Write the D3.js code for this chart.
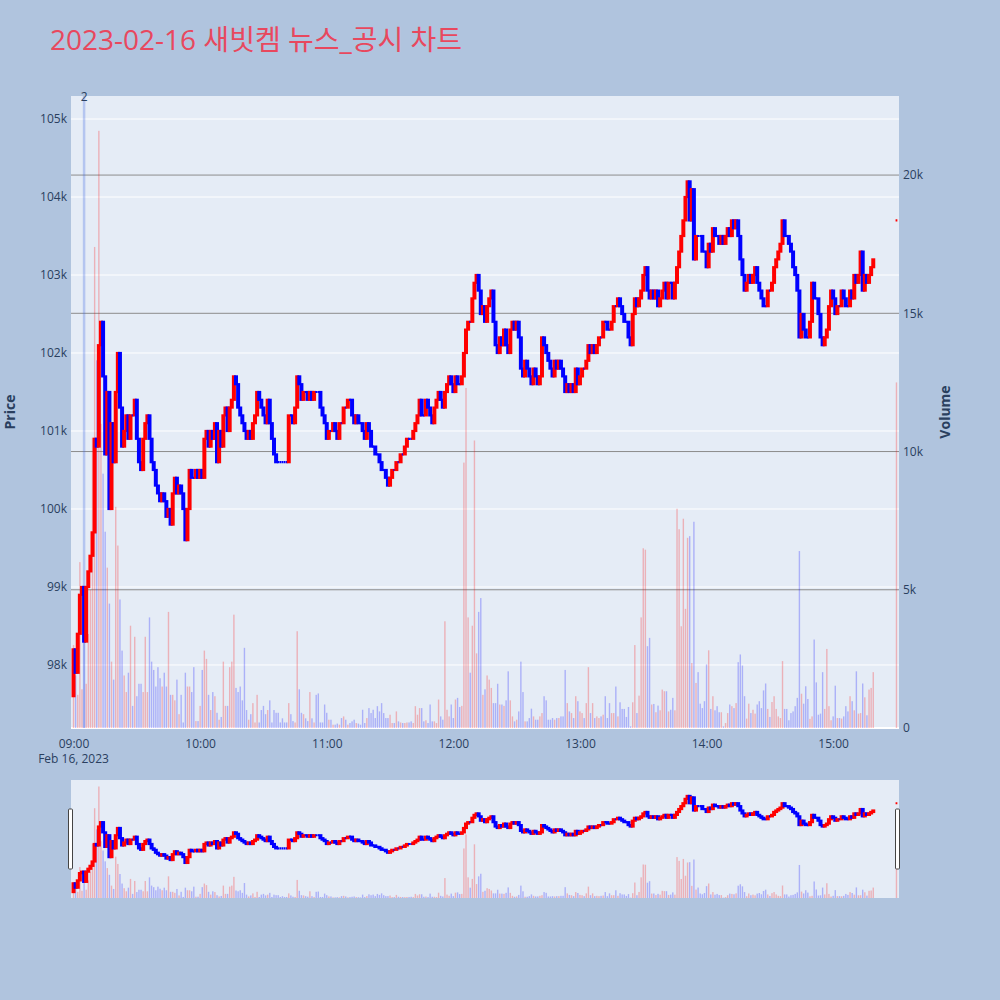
<!DOCTYPE html>
<html>
<head>
<meta charset="utf-8">
<script src="https://cdn.jsdelivr.net/npm/d3@7"></script>
<style>
  body { margin: 0; background: #b0c4de; }
  text { font-family: "Open Sans", "Noto Sans CJK KR", sans-serif; }
</style>
</head>
<body>
<svg id="chart" width="1000" height="1000"></svg>
<script>
// 1-minute closes from 09:00 to 15:19, in units of 100 won
const closes = [
  982,979,984,989,990,983,990,992,994,997,
  1009,1008,1021,1024,1017,1007,1015,1000,1011,1006,
  1015,1020,1013,1008,1010,1012,1009,1012,1012,1014,
  1009,1006,1005,1009,1011,1012,1009,1006,1005,1003,
  1002,1001,1002,1001,999,1000,998,1002,1004,1002,
  1003,1002,1000,996,1000,1005,1004,1004,1005,1004,
  1005,1004,1009,1010,1008,1010,1009,1011,1006,1010,
  1008,1012,1013,1010,1013,1014,1017,1016,1013,1012,
  1011,1010,1009,1010,1009,1011,1012,1015,1014,1013,
  1012,1011,1014,1011,1009,1007,1006,1006,1006,1006,
  1006,1006,1012,1012,1011,1013,1017,1016,1014,1015,
  1015,1014,1015,1014,1015,1015,1015,1013,1012,1011,
  1009,1010,1010,1011,1010,1009,1011,1011,1013,1013,
  1014,1014,1012,1011,1012,1011,1011,1010,1009,1011,
  1010,1008,1008,1007,1007,1006,1005,1005,1004,1003,
  1004,1005,1005,1006,1006,1007,1007,1008,1009,1009,
  1009,1010,1011,1012,1014,1012,1012,1014,1013,1012,
  1011,1013,1014,1015,1014,1013,1015,1016,1017,1016,
  1015,1017,1016,1016,1017,1020,1023,1024,1024,1027,
  1029,1030,1028,1025,1026,1024,1026,1027,1028,1024,
  1021,1020,1022,1021,1023,1021,1020,1023,1024,1023,
  1024,1022,1018,1017,1019,1018,1017,1016,1018,1017,
  1016,1017,1022,1021,1020,1019,1018,1017,1019,1018,
  1019,1018,1017,1015,1016,1015,1016,1015,1018,1016,
  1017,1018,1018,1019,1021,1020,1021,1020,1021,1022,
  1022,1024,1024,1023,1023,1024,1026,1026,1027,1026,
  1025,1024,1024,1022,1021,1025,1027,1026,1027,1028,
  1030,1031,1028,1027,1028,1027,1028,1026,1027,1028,
  1029,1027,1029,1029,1027,1029,1031,1033,1035,1037,
  1040,1042,1037,1041,1032,1035,1035,1035,1033,1033,
  1031,1034,1033,1036,1035,1035,1034,1035,1034,1035,
  1036,1035,1037,1036,1037,1035,1032,1030,1028,1029,
  1030,1029,1030,1031,1029,1028,1027,1026,1026,1028,
  1028,1029,1031,1032,1033,1034,1037,1035,1035,1034,
  1033,1031,1030,1028,1022,1025,1023,1022,1022,1024,
  1029,1027,1027,1025,1022,1021,1022,1023,1026,1028,
  1027,1025,1026,1026,1028,1027,1026,1026,1028,1027,
  1030,1029,1030,1033,1028,1030,1029,1030,1031,1032
];
const firstOpen = 976;
// 15:30 closing auction
const auctionOpen = 1037;
const auctionClose = 1037;

const volumes = [
  3000,1900,1200,6000,1400,3500,1600,3400,5000,10500,
  17400,13300,21600,11000,9200,7100,5800,4500,2400,1750,
  8000,6600,4650,2800,1900,1300,2000,3700,800,3300,
  1150,1600,1600,1300,3300,1300,4000,2400,2100,1500,
  2200,1800,1500,2000,1500,4200,1200,1200,1000,1750,
  500,1200,200,2000,1500,1500,1300,2200,250,250,
  800,2100,2800,2500,1200,650,1300,1150,550,300,
  400,2400,800,800,2200,2400,4100,1450,1300,1500,
  1000,2900,650,300,500,900,200,1200,200,650,
  800,500,650,1000,200,650,550,550,200,350,
  200,200,900,500,250,200,3500,1400,550,500,
  350,250,1300,350,200,1200,1250,200,200,850,
  550,300,300,120,120,160,120,360,420,300,
  120,180,240,300,180,160,120,660,180,360,
  720,540,660,360,790,600,900,540,360,360,
  480,180,180,600,240,200,180,180,200,200,
  240,180,790,480,720,720,240,280,180,850,
  240,240,180,1030,420,300,3860,660,420,850,
  360,1030,1090,760,800,9600,12300,4000,2000,3700,
  10400,2700,4200,4700,1200,1400,1900,1750,1450,900,
  900,1600,850,850,800,1000,2050,1000,420,240,
  300,600,2400,1300,240,240,360,700,420,300,
  300,420,540,1150,1000,300,300,360,300,360,
  360,420,420,2100,900,600,540,360,1150,970,
  600,540,360,900,2200,540,900,360,420,360,
  420,480,1150,360,900,540,540,1500,420,930,
  690,690,400,760,60,930,3000,540,1170,4000,
  6500,6450,2960,3260,850,870,570,810,640,1390,
  1330,1330,600,660,1090,640,7930,7190,3680,7570,
  4310,6880,6940,2350,7460,1630,2020,880,720,970,
  2300,2810,690,1150,640,790,570,570,60,180,
  540,850,790,720,900,2380,2660,2260,1150,340,
  880,540,660,520,850,970,720,1360,1610,690,
  400,940,1150,690,420,360,2420,690,690,280,
  540,600,790,1090,6400,1240,880,1510,1050,330,
  420,3200,1650,480,520,2020,690,2860,790,280,
  420,1530,360,360,340,420,790,600,1150,970,
  640,2050,520,540,1610,1110,460,1390,1450,2020
];
const auctionVolume = 12500;

const priceTicks = [98000, 99000, 100000, 101000, 102000, 103000, 104000, 105000];
const volumeTicks = [0, 5000, 10000, 15000, 20000];
const hourTicks = ["09:00", "10:00", "11:00", "12:00", "13:00", "14:00", "15:00"];
const newsTimes = ["09:05"];
const newsLabels = ["2"];

const day = "2023-02-16";
const parseTime = d3.timeParse("%Y-%m-%d %H:%M");
const t0 = parseTime(day + " 09:00");
const minute = 60000;

const candles = closes.map((c, i) => ({
  time: new Date(+t0 + i * minute),
  open: (i ? closes[i - 1] : firstOpen) * 100,
  close: c * 100,
  volume: volumes[i]
}));
candles.push({
  time: parseTime(day + " 15:30"),
  open: auctionOpen * 100,
  close: auctionClose * 100,
  volume: auctionVolume
});
candles.forEach((d, i) => {
  const prev = i ? candles[i - 1].close : d.open;
  d.up = d.close > d.open || (d.close === d.open && d.close > prev);
});

const svg = d3.select('#chart');
const plotLeft = 71, plotRight = 899, plotTop = 96, plotBottom = 728;
const sTop = 780, sBottom = 898;
const fontColor = '#2a3f5f';

const x = d3.scaleTime()
  .domain([new Date(+t0 - 1.2 * minute), new Date(+t0 + 391.2 * minute)])
  .range([plotLeft, plotRight]);
const yPrice = d3.scaleLinear().domain([97192, 105295]).range([plotBottom, plotTop]);
const yVol = d3.scaleLinear().domain([0, 22860]).range([plotBottom, plotTop]);
const sPrice = d3.scaleLinear().domain(yPrice.domain()).range([sBottom, sTop]);
const sVol = d3.scaleLinear().domain(yVol.domain()).range([sBottom, sTop]);

// title
svg.append('text')
  .attr('x', 50).attr('y', 50)
  .style('font-size', '28px')
  .style('fill', '#e8485e')
  .text(day + ' 새빗켐 뉴스_공시 차트');

const defs = svg.append('defs');
defs.append('clipPath').attr('id', 'clipMain')
  .append('rect').attr('x', plotLeft).attr('y', plotTop)
  .attr('width', plotRight - plotLeft).attr('height', plotBottom - plotTop);
defs.append('clipPath').attr('id', 'clipSlider')
  .append('rect').attr('x', plotLeft).attr('y', sTop)
  .attr('width', plotRight - plotLeft).attr('height', sBottom - sTop);

svg.append('rect')
  .attr('x', plotLeft).attr('y', plotTop)
  .attr('width', plotRight - plotLeft).attr('height', plotBottom - plotTop)
  .style('fill', '#e5ecf6');

// price grid
svg.append('g').selectAll('line')
  .data(priceTicks)
  .join('line')
  .attr('x1', plotLeft).attr('x2', plotRight)
  .attr('y1', d => yPrice(d)).attr('y2', d => yPrice(d))
  .style('stroke', '#fff').style('stroke-width', 1);

// volume grid
svg.append('g').selectAll('line')
  .data(volumeTicks)
  .join('line')
  .attr('x1', plotLeft).attr('x2', plotRight)
  .attr('y1', d => yVol(d)).attr('y2', d => yVol(d))
  .style('stroke', d => d === 0 ? '#fff' : '#8c8c8c')
  .style('stroke-width', d => d === 0 ? 2 : 1);

const upColor = 'red', downColor = 'blue';

const drawVolume = (g, yScale) => {
  g.selectAll('rect')
    .data(candles)
    .join('rect')
    .attr('x', d => x(d.time) - 0.7)
    .attr('width', 1.4)
    .attr('y', d => yScale(d.volume))
    .attr('height', d => yScale(0) - yScale(d.volume))
    .style('fill', d => d.up ? upColor : downColor)
    .style('opacity', 0.25);
};

const drawCandles = (g, yScale) => {
  const bw = 1.8;
  g.selectAll('path')
    .data(candles)
    .join('path')
    .attr('d', d => {
      const cx = x(d.time);
      const y0 = yScale(d.open), y1 = yScale(d.close);
      return 'M' + (cx - bw / 2) + ',' + y0 + 'H' + (cx + bw / 2) + 'V' + y1 + 'H' + (cx - bw / 2) + 'Z';
    })
    .style('fill', d => d.up ? upColor : downColor)
    .style('stroke', d => d.up ? upColor : downColor)
    .style('stroke-width', 2.2);
};

const main = svg.append('g').attr('clip-path', 'url(#clipMain)');
drawVolume(main.append('g'), yVol);

// news marker lines
const news = newsTimes.map((t, i) => ({ time: parseTime(day + ' ' + t), label: newsLabels[i] }));
main.append('g').selectAll('line')
  .data(news)
  .join('line')
  .attr('x1', d => x(d.time)).attr('x2', d => x(d.time))
  .attr('y1', plotTop).attr('y2', plotBottom)
  .style('stroke', 'royalblue')
  .style('stroke-opacity', 0.3)
  .style('stroke-width', 2.5);

drawCandles(main.append('g'), yPrice);

svg.append('g').selectAll('text')
  .data(news)
  .join('text')
  .attr('x', d => x(d.time))
  .attr('y', plotTop + 5)
  .attr('text-anchor', 'middle')
  .style('font-size', '12px')
  .style('fill', fontColor)
  .text(d => d.label);

// axes
const styleAxis = g => {
  g.select('.domain').remove();
  g.selectAll('text')
    .style('font-family', '"Open Sans", sans-serif')
    .style('font-size', '12px')
    .style('fill', fontColor);
};

svg.append('g')
  .attr('transform', 'translate(' + plotLeft + ',0)')
  .call(d3.axisLeft(yPrice).tickValues(priceTicks).tickFormat(d => d / 1000 + 'k').tickSize(0).tickPadding(4))
  .call(styleAxis);

svg.append('g')
  .attr('transform', 'translate(' + plotRight + ',0)')
  .call(d3.axisRight(yVol).tickValues(volumeTicks).tickFormat(d => d ? d / 1000 + 'k' : '0').tickSize(0).tickPadding(4))
  .call(styleAxis);

const hourDates = hourTicks.map(h => parseTime(day + ' ' + h));
svg.append('g')
  .attr('transform', 'translate(0,' + plotBottom + ')')
  .call(d3.axisBottom(x).tickValues(hourDates).tickFormat(d3.timeFormat('%H:%M')).tickSize(0).tickPadding(11))
  .call(styleAxis);

svg.append('text')
  .attr('x', x(hourDates[0])).attr('y', 763)
  .attr('text-anchor', 'middle')
  .style('font-size', '12px')
  .style('fill', fontColor)
  .text(d3.timeFormat('%b %-d, %Y')(hourDates[0]));

svg.append('text')
  .attr('transform', 'translate(15,' + (plotTop + plotBottom) / 2 + ') rotate(-90)')
  .attr('text-anchor', 'middle')
  .style('font-size', '14px')
  .style('font-weight', 'bold')
  .style('fill', fontColor)
  .text('Price');

svg.append('text')
  .attr('transform', 'translate(950,' + (plotTop + plotBottom) / 2 + ') rotate(-90)')
  .attr('text-anchor', 'middle')
  .style('font-size', '14px')
  .style('font-weight', 'bold')
  .style('fill', fontColor)
  .text('Volume');

// range slider
svg.append('rect')
  .attr('x', plotLeft).attr('y', sTop)
  .attr('width', plotRight - plotLeft).attr('height', sBottom - sTop)
  .style('fill', '#e5ecf6');

const slider = svg.append('g').attr('clip-path', 'url(#clipSlider)');
drawVolume(slider.append('g'), sVol);
drawCandles(slider.append('g'), sPrice);

svg.append('g').selectAll('rect')
  .data([plotLeft - 2.5, plotRight - 3.5])
  .join('rect')
  .attr('x', d => d)
  .attr('y', (sTop + sBottom) / 2 - 30)
  .attr('width', 4)
  .attr('height', 60)
  .attr('rx', 1)
  .style('fill', '#fff')
  .style('stroke', '#444')
  .style('stroke-width', 1);
</script>
</body>
</html>
